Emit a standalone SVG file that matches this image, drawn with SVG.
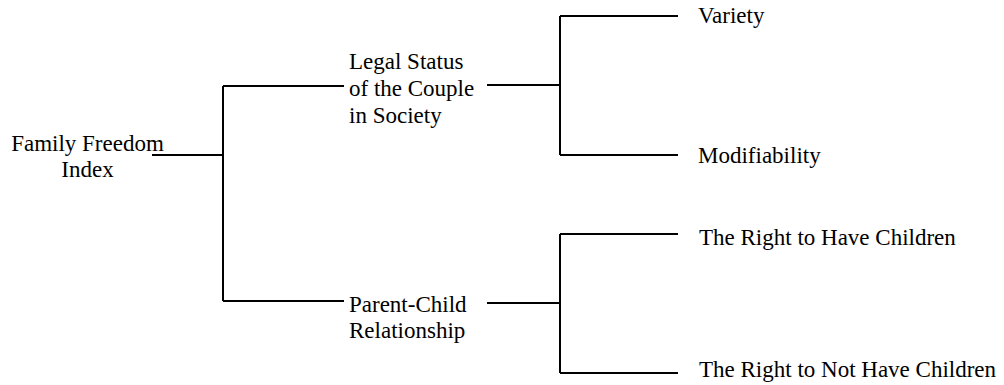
<svg xmlns="http://www.w3.org/2000/svg" width="1004" height="385" viewBox="0 0 1004 385">
<style>
  text { font-family: 'Liberation Serif', 'Times New Roman', Times, serif; font-size: 23px; fill: #000; }
  .c { fill: none; stroke: #000; stroke-width: 2; }
</style>
<rect width="1004" height="385" fill="#fff"/>
<g id="connectors">
  <path class="c" d="M152,155 H223"/>
  <path class="c" d="M223,86 V301"/>
  <path class="c" d="M223,86 H344"/>
  <path class="c" d="M223,301 H344"/>
  <path class="c" d="M487,85 H560"/>
  <path class="c" d="M560,16 V155"/>
  <path class="c" d="M560,16 H678"/>
  <path class="c" d="M560,155 H678"/>
  <path class="c" d="M487,303 H560"/>
  <path class="c" d="M560,234 V373"/>
  <path class="c" d="M560,234 H678"/>
  <path class="c" d="M560,373 H678"/>
</g>
<g id="root">
  <text x="87.5" y="151" text-anchor="middle">Family Freedom</text>
  <text x="87.5" y="177" text-anchor="middle">Index</text>
</g>
<g id="legal">
  <text x="349" y="69">Legal Status</text>
  <text x="349" y="96">of the Couple</text>
  <text x="349" y="123">in Society</text>
</g>
<g id="parent">
  <text x="349" y="312">Parent-Child</text>
  <text x="349" y="338">Relationship</text>
</g>
<g id="variety"><text x="698" y="23">Variety</text></g>
<g id="modifiability"><text x="698" y="163">Modifiability</text></g>
<g id="have"><text x="699" y="245">The Right to Have Children</text></g>
<g id="nothave"><text x="699" y="377">The Right to Not Have Children</text></g>
</svg>
